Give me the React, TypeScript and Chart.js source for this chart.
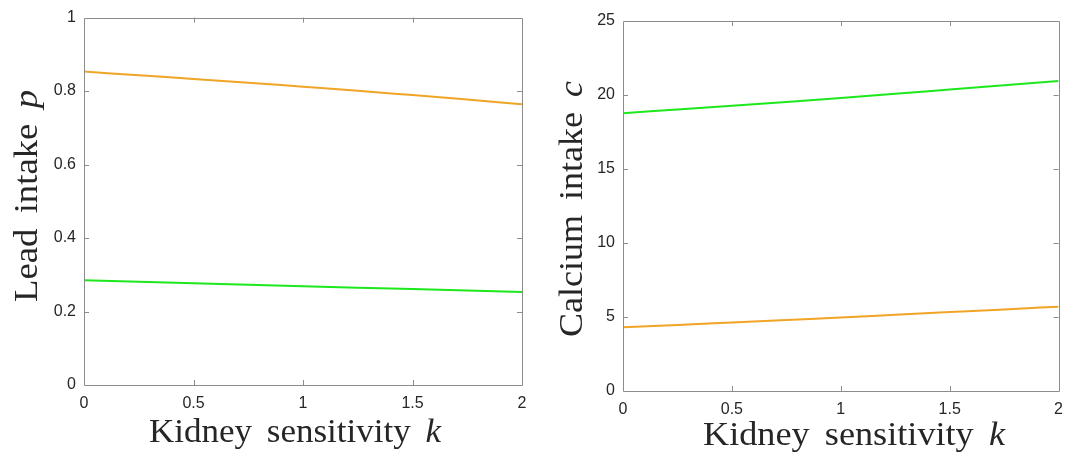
import React, { useEffect, useRef } from "react";
import { Chart, registerables } from "chart.js";

Chart.register(...registerables);

// ---- data ----
const kValues = [0, 0.25, 0.5, 0.75, 1, 1.25, 1.5, 1.75, 2];
const leadOrange = [0.853, 0.843, 0.833, 0.823, 0.812, 0.801, 0.789, 0.777, 0.764];
const leadGreen = [0.285, 0.281, 0.277, 0.273, 0.269, 0.265, 0.261, 0.257, 0.253];
const calciumGreen = [18.77, 19.02, 19.27, 19.53, 19.8, 20.08, 20.37, 20.66, 20.95];
const calciumOrange = [4.3, 4.46, 4.63, 4.8, 4.97, 5.15, 5.33, 5.51, 5.7];
const xTickValues = [0, 0.5, 1, 1.5, 2];
const leadTickValues = [0, 0.2, 0.4, 0.6, 0.8, 1];
const calciumTickValues = [0, 5, 10, 15, 20, 25];
const xTitle = ["Kidney", "sensitivity", "k"];
const leadTitle = ["Lead", "intake", "p"];
const calciumTitle = ["Calcium", "intake", "c"];

const ORANGE = "#F0A526";
const GREEN = "#1CE81C";
const BOX = "#8c8c8c";
const TEXT = "#262626";
const TICK_FONT = { family: '"Liberation Sans", Arial, Helvetica, sans-serif', size: 16 };
const SERIF = '"Liberation Serif", "Times New Roman", serif';
const TITLE_SIZE = 33;

function drawPieces(ctx: CanvasRenderingContext2D, pieces: string[], cx: number, baseline: number, target: number) {
  const fr = `${TITLE_SIZE}px ${SERIF}`;
  const fi = `italic ${TITLE_SIZE}px ${SERIF}`;
  const widths = pieces.map((p, i) => {
    ctx.font = i === pieces.length - 1 ? fi : fr;
    return ctx.measureText(p).width;
  });
  const gap = TITLE_SIZE * 0.42;
  const natural = widths.reduce((a, b) => a + b, 0) + gap * (pieces.length - 1);
  const sx = target / natural;
  ctx.save();
  ctx.translate(cx - target / 2, baseline);
  ctx.scale(sx, 1);
  ctx.fillStyle = TEXT;
  ctx.textBaseline = "alphabetic";
  ctx.textAlign = "left";
  let x = 0;
  pieces.forEach((p, i) => {
    ctx.font = i === pieces.length - 1 ? fi : fr;
    ctx.fillText(p, x, 0);
    x += widths[i] + gap;
  });
  ctx.restore();
}

interface TitleCfg {
  xPieces: string[];
  xCenter: number;
  xBaseline: number;
  xWidth: number;
  yPieces: string[];
  yBaselineX: number;
  yCenter: number;
  yLength: number;
}

function makePlugins(t: TitleCfg) {
  return [
    {
      id: "matlabBox",
      afterDatasetsDraw(chart: any) {
        const { ctx, chartArea: a, scales } = chart;
        ctx.save();
        ctx.strokeStyle = BOX;
        ctx.lineWidth = 1;
        ctx.beginPath();
        ctx.rect(Math.round(a.left) + 0.5, Math.round(a.top) + 0.5, Math.round(a.right - a.left), Math.round(a.bottom - a.top));
        ctx.stroke();
        const L = 5;
        ctx.beginPath();
        scales.x.ticks.forEach((tk: any) => {
          const px = Math.round(scales.x.getPixelForValue(tk.value)) + 0.5;
          if (px - a.left < 2 || a.right - px < 2) return;
          ctx.moveTo(px, a.bottom);
          ctx.lineTo(px, a.bottom - L);
          ctx.moveTo(px, a.top);
          ctx.lineTo(px, a.top + L);
        });
        scales.y.ticks.forEach((tk: any) => {
          const py = Math.round(scales.y.getPixelForValue(tk.value)) + 0.5;
          if (py - a.top < 2 || a.bottom - py < 2) return;
          ctx.moveTo(a.left, py);
          ctx.lineTo(a.left + L, py);
          ctx.moveTo(a.right, py);
          ctx.lineTo(a.right - L, py);
        });
        ctx.stroke();
        ctx.restore();
      },
    },
    {
      id: "mixedTitles",
      afterDraw(chart: any) {
        const ctx = chart.ctx as CanvasRenderingContext2D;
        drawPieces(ctx, t.xPieces, t.xCenter, t.xBaseline, t.xWidth);
        ctx.save();
        ctx.translate(t.yBaselineX, t.yCenter);
        ctx.rotate(-Math.PI / 2);
        drawPieces(ctx, t.yPieces, 0, 0, t.yLength);
        ctx.restore();
      },
    },
  ];
}

interface PanelProps {
  width: number;
  left: number;
  series: { values: number[]; color: string }[];
  yTicks: number[];
  yMax: number;
  area: { left: number; right: number; top: number; bottom: number };
  titles: TitleCfg;
}

const fmt = (v: any) => String(Number(v));

function Panel({ width, left, series, yTicks, yMax, area, titles }: PanelProps) {
  const ref = useRef<HTMLCanvasElement>(null);
  useEffect(() => {
    if (!ref.current) return;
    const H = 452;
    const chart = new Chart(ref.current, {
      type: "line",
      data: {
        datasets: series.map((s) => ({
          data: kValues.map((k, i) => ({ x: k, y: s.values[i] })),
          borderColor: s.color,
          backgroundColor: s.color,
          borderWidth: 2,
          pointRadius: 0,
          cubicInterpolationMode: "monotone" as const,
          fill: false,
        })),
      },
      options: {
        responsive: false,
        animation: false,
        events: [],
        layout: {
          padding: { left: 0, top: area.top, right: width - area.right, bottom: 0 },
        },
        plugins: {
          legend: { display: false },
          tooltip: { enabled: false },
          title: { display: false },
        },
        scales: {
          x: {
            type: "linear",
            min: 0,
            max: 2,
            grid: { display: false, drawTicks: false },
            border: { display: false },
            ticks: { font: TICK_FONT, color: TEXT, padding: 9, maxRotation: 0, callback: fmt },
            afterBuildTicks: (s: any) => {
              s.ticks = xTickValues.map((v) => ({ value: v }));
            },
            afterFit: (s: any) => {
              s.height = H - area.bottom;
            },
          },
          y: {
            type: "linear",
            min: 0,
            max: yMax,
            grid: { display: false, drawTicks: false },
            border: { display: false },
            ticks: { font: TICK_FONT, color: TEXT, padding: 8, callback: fmt },
            afterBuildTicks: (s: any) => {
              s.ticks = yTicks.map((v) => ({ value: v }));
            },
            afterFit: (s: any) => {
              s.width = area.left;
            },
          },
        },
      },
      plugins: makePlugins(titles) as any,
    });
    return () => chart.destroy();
  }, []);
  return (
    <canvas
      ref={ref}
      width={width}
      height={452}
      style={{ position: "absolute", left, top: 0, width, height: 452 }}
    />
  );
}

export default function App() {
  return (
    <div style={{ position: "fixed", left: 0, top: 0, width: 1072, height: 452, background: "#fff", overflow: "hidden" }}>
      <Panel
        width={540}
        left={0}
        series={[
          { values: leadOrange, color: ORANGE },
          { values: leadGreen, color: GREEN },
        ]}
        yTicks={leadTickValues}
        yMax={1}
        area={{ left: 84, right: 522, top: 17, bottom: 385 }}
        titles={{
          xPieces: xTitle,
          xCenter: 295,
          xBaseline: 442,
          xWidth: 292,
          yPieces: leadTitle,
          yBaselineX: 37,
          yCenter: 196,
          yLength: 212,
        }}
      />
      <Panel
        width={532}
        left={540}
        series={[
          { values: calciumGreen, color: GREEN },
          { values: calciumOrange, color: ORANGE },
        ]}
        yTicks={calciumTickValues}
        yMax={25}
        area={{ left: 83, right: 521, top: 21, bottom: 391 }}
        titles={{
          xPieces: xTitle,
          xCenter: 314,
          xBaseline: 445,
          xWidth: 302,
          yPieces: calciumTitle,
          yBaselineX: 42,
          yCenter: 209,
          yLength: 256,
        }}
      />
    </div>
  );
}
